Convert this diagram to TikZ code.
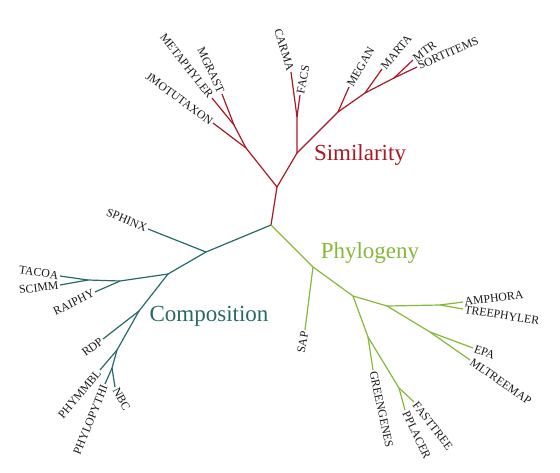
\documentclass[tikz,border=0pt]{standalone}
\usepackage{fontspec}
\setmainfont{Liberation Serif}
\usepackage{tikz}
\usetikzlibrary{positioning, calc}
\definecolor{simred}{RGB}{170,24,38}
\definecolor{compteal}{RGB}{42,104,104}
\definecolor{phygreen}{RGB}{134,184,58}
\tikzstyle{simedge} = [line width=1.2pt, draw=simred]
\tikzstyle{compedge} = [line width=1.2pt, draw=compteal]
\tikzstyle{phyedge} = [line width=1.2pt, draw=phygreen]
\tikzstyle{leaf} = [inner sep=1.5pt, text=black!90, font=\fontsize{11.8}{12}\selectfont]
\tikzstyle{group} = [inner sep=0pt, font=\fontsize{23}{26}\selectfont]

\begin{document}
\begin{tikzpicture}[x=1pt, y=-1pt]
    \useasboundingbox (0,0) rectangle (560,472);
    \coordinate (root) at (271,225);

    % Similarity
    \coordinate (s1) at (277,187);
    \coordinate (s2) at (246,148);
    \coordinate (s3) at (234,125);
    \coordinate (s4) at (297,153);
    \coordinate (s5) at (297,117);
    \coordinate (s6) at (338,112);
    \coordinate (s7) at (365,93);
    \coordinate (s8) at (394,78);
    \coordinate (jmotu) at (213,123);
    \coordinate (metaph) at (212,98);
    \coordinate (mgr) at (222,94);
    \coordinate (carm) at (291,72);
    \coordinate (fac) at (300,95);
    \coordinate (meg) at (349,87);
    \coordinate (mart) at (382,69);
    \coordinate (mt) at (413,60);
    \coordinate (sorti) at (417,67);
    \node (jmotutaxon) [leaf, anchor=east, rotate=-36] at (jmotu) {JMOTUTAXON};
    \node (metaphyler) [leaf, anchor=east, rotate=-52] at (metaph) {METAPHYLER};
    \node (mgrast) [leaf, anchor=east, rotate=-65] at (mgr) {MGRAST};
    \node (carma) [leaf, anchor=east, rotate=-73] at (carm) {CARMA};
    \node (facs) [leaf, anchor=west, rotate=79] at (fac) {FACS};
    \node (megan) [leaf, anchor=west, rotate=60] at (meg) {MEGAN};
    \node (marta) [leaf, anchor=west, rotate=50] at (mart) {MARTA};
    \node (mtr) [leaf, anchor=west, rotate=37] at (mt) {MTR};
    \node (sortitems) [leaf, anchor=west, rotate=24] at (sorti) {SORTITEMS};
    \node (similarity) [group, text=simred] at (360,155) {Similarity};
    \draw [simedge] (root) -- (s1) -- (s2) -- (jmotu);
    \draw [simedge] (s2) -- (s3) -- (metaph);
    \draw [simedge] (s3) -- (mgr);
    \draw [simedge] (s1) -- (s4) -- (s5) -- (carm);
    \draw [simedge] (s5) -- (fac);
    \draw [simedge] (s4) -- (s6) -- (meg);
    \draw [simedge] (s6) -- (s7) -- (mart);
    \draw [simedge] (s7) -- (s8) -- (mt);
    \draw [simedge] (s8) -- (sorti);

    % Composition
    \coordinate (c1) at (206,252);
    \coordinate (c2) at (168,274);
    \coordinate (c3) at (120,281);
    \coordinate (c4) at (88,280);
    \coordinate (c5) at (139,311);
    \coordinate (c6) at (117,350);
    \coordinate (c7) at (112,368);
    \coordinate (sphin) at (148,229);
    \coordinate (raiph) at (95,292);
    \coordinate (taco) at (60,276);
    \coordinate (scim) at (60,285);
    \coordinate (rd) at (103,339);
    \coordinate (phymm) at (100,370);
    \coordinate (phylo) at (105,384);
    \coordinate (nb) at (115,387);
    \node (sphinx) [leaf, anchor=east, rotate=-23] at (sphin) {SPHINX};
    \node (tacoa) [leaf, anchor=east, rotate=-9] at (taco) {TACOA};
    \node (scimm) [leaf, anchor=east, rotate=7] at (scim) {SCIMM};
    \node (raiphy) [leaf, anchor=east, rotate=26] at (raiph) {RAIPHY};
    \node (rdp) [leaf, anchor=east, rotate=37] at (rd) {RDP};
    \node (phymmbl) [leaf, anchor=east, rotate=50] at (phymm) {PHYMMBL};
    \node (phylopythi) [leaf, anchor=east, rotate=68] at (phylo) {PHYLOPYTHI};
    \node (nbc) [leaf, anchor=west, rotate=-62] at (nb) {NBC};
    \node (composition) [group, text=compteal] at (209,316) {Composition};
    \draw [compedge] (root) -- (c1) -- (sphin);
    \draw [compedge] (c1) -- (c2) -- (c3) -- (raiph);
    \draw [compedge] (c3) -- (c4) -- (taco);
    \draw [compedge] (c4) -- (scim);
    \draw [compedge] (c2) -- (c5) -- (rd);
    \draw [compedge] (c5) -- (c6) -- (phymm);
    \draw [compedge] (c6) -- (c7) -- (phylo);
    \draw [compedge] (c7) -- (nb);

    % Phylogeny
    \coordinate (p1) at (313,267);
    \coordinate (p2) at (353,296);
    \coordinate (p3) at (387,306);
    \coordinate (p4) at (440,305);
    \coordinate (p5) at (430,332);
    \coordinate (p6) at (368,337);
    \coordinate (p7) at (399,388);
    \coordinate (sa) at (305,330);
    \coordinate (amph) at (463,302);
    \coordinate (treeph) at (463,309);
    \coordinate (ep) at (473,348);
    \coordinate (mltree) at (470,360);
    \coordinate (green) at (373,370);
    \coordinate (fast) at (414,402);
    \coordinate (ppl) at (405,410);
    \node (sap) [leaf, anchor=east, rotate=80] at (sa) {SAP};
    \node (amphora) [leaf, anchor=west, rotate=7] at (amph) {AMPHORA};
    \node (treephyler) [leaf, anchor=west, rotate=-9] at (treeph) {TREEPHYLER};
    \node (epa) [leaf, anchor=west, rotate=-20] at (ep) {EPA};
    \node (mltreemap) [leaf, anchor=west, rotate=-35] at (mltree) {MLTREEMAP};
    \node (greengenes) [leaf, anchor=west, rotate=-78] at (green) {GREENGENES};
    \node (fasttree) [leaf, anchor=west, rotate=-52] at (fast) {FASTTREE};
    \node (pplacer) [leaf, anchor=west, rotate=-65] at (ppl) {PPLACER};
    \node (phylogeny) [group, text=phygreen] at (370,253) {Phylogeny};
    \draw [phyedge] (root) -- (p1) -- (sa);
    \draw [phyedge] (p1) -- (p2) -- (p3) -- (p4) -- (amph);
    \draw [phyedge] (p4) -- (treeph);
    \draw [phyedge] (p3) -- (p5) -- (ep);
    \draw [phyedge] (p5) -- (mltree);
    \draw [phyedge] (p2) -- (p6) -- (green);
    \draw [phyedge] (p6) -- (p7) -- (fast);
    \draw [phyedge] (p7) -- (ppl);
\end{tikzpicture}
\end{document}
